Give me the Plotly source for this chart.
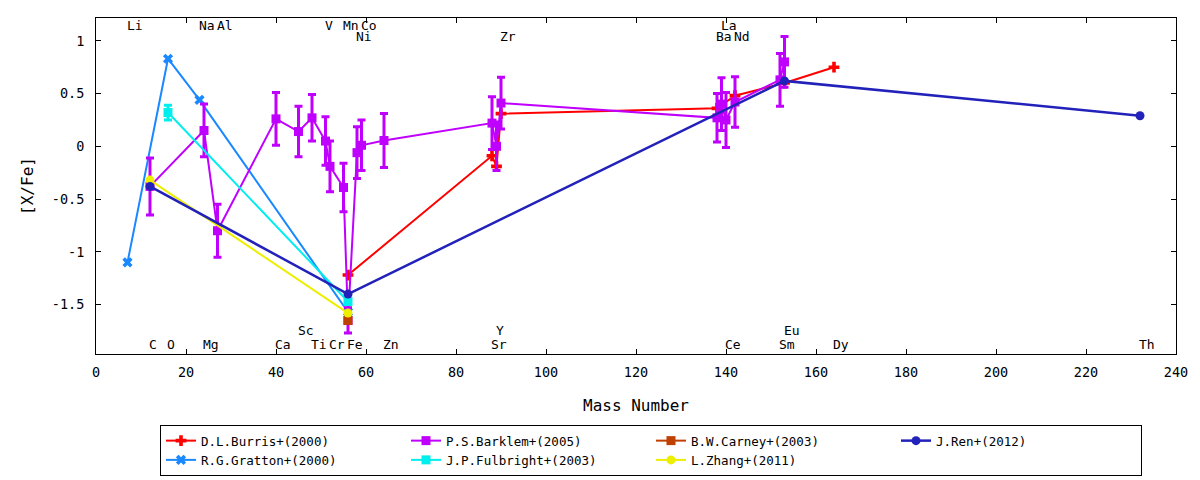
import plotly.graph_objects as go

# --- data ([X/Fe] vs mass number) ---
burris_mass = [56, 88, 89, 90, 138, 142, 153, 164]
burris_val = [-1.22, -0.09, -0.19, 0.31, 0.36, 0.48, 0.60, 0.75]

gratton_mass = [7, 16, 23, 56]
gratton_val = [-1.10, 0.83, 0.44, -1.57]

barklem_mass = [12, 24, 27, 40, 45, 48, 51, 52, 55, 56, 58, 59, 64,
                88, 89, 90, 138, 139, 140, 142, 152, 153]
barklem_val = [-0.38, 0.15, -0.80, 0.26, 0.14, 0.27, 0.05, -0.19, -0.39, -1.65, -0.06, 0.01, 0.055,
               0.22, 0.00, 0.41, 0.27, 0.40, 0.25, 0.42, 0.63, 0.80]
barklem_err = [0.27, 0.25, 0.25, 0.25, 0.24, 0.22, 0.23, 0.24, 0.23, 0.12, 0.245, 0.24, 0.255,
               0.25, 0.23, 0.245, 0.23, 0.25, 0.26, 0.24, 0.25, 0.24]

fulbright_mass = [16, 56]
fulbright_val = [0.32, -1.47]
fulbright_err = [0.07, 0.03]

carney_mass = [56]
carney_val = [-1.65]

zhang_mass = [12, 56]
zhang_val = [-0.32, -1.58]

ren_mass = [12, 56, 153, 232]
ren_val = [-0.38, -1.40, 0.62, 0.29]

# element labels along top and bottom of the frame
top1_names = ["Li", "Na", "Al", "V", "Mn", "Co", "La"]
top1_mass = [7, 23, 27, 51, 55, 59, 139]
top2_names = ["Ni", "Zr", "Ba", "Nd"]
top2_mass = [58, 90, 138, 142]
bot1_names = ["Sc", "Y", "Eu"]
bot1_mass = [45, 89, 153]
bot2_names = ["C", "O", "Mg", "Ca", "Ti", "Cr", "Fe", "Zn", "Sr", "Ce", "Sm", "Dy", "Th"]
bot2_mass = [12, 16, 24, 40, 48, 52, 56, 64, 88, 140, 152, 164, 232]

x_ticks = list(range(0, 241, 20))
y_ticks = [-1.5, -1, -0.5, 0, 0.5, 1]
y_ticktext = ["-1.5", "-1", "-0.5", "0", "0.5", "1"]

FONT = "DejaVu Sans Mono"

fig = go.Figure()


def add_series(name, xs, ys, color, symbol, rank, err=None, size=9, lw=2):
    fig.add_trace(go.Scatter(
        x=xs, y=ys, name=name,
        mode='lines+markers',
        line=dict(color=color, width=lw),
        marker=dict(color=color, symbol=symbol, size=size, line=dict(width=0)),
        error_y=dict(type='data', array=err, color=color, thickness=3, width=4,
                     visible=err is not None),
        legendrank=rank,
    ))


# plotting order as in the original (later ones on top)
add_series("D.L.Burris+(2000)", burris_mass, burris_val, "#ff0000", "cross", 1)
add_series("R.G.Gratton+(2000)", gratton_mass, gratton_val, "#1a88ff", "x", 5)
add_series("P.S.Barklem+(2005)", barklem_mass, barklem_val, "#c000ff", "square", 2, err=barklem_err)
add_series("J.P.Fulbright+(2003)", fulbright_mass, fulbright_val, "#00eeee", "square", 6, err=fulbright_err)
add_series("B.W.Carney+(2003)", carney_mass, carney_val, "#c04000", "square", 3)
add_series("L.Zhang+(2011)", zhang_mass, zhang_val, "#eeee00", "circle", 7)
add_series("J.Ren+(2012)", ren_mass, ren_val, "#2222bb", "circle", 4, lw=2.5)

annotations = []
for names, masses, yv in [(top1_names, top1_mass, 1.145), (top2_names, top2_mass, 1.036),
                          (bot1_names, bot1_mass, -1.745), (bot2_names, bot2_mass, -1.878)]:
    for nm, m in zip(names, masses):
        annotations.append(dict(
            x=m, y=yv, xref='x', yref='y', text=nm, showarrow=False,
            xanchor='left', yanchor='middle', xshift=-3,
            font=dict(family=FONT, size=13, color='black'),
        ))

fig.update_layout(
    width=1200, height=480,
    margin=dict(l=96, r=24, t=18, b=126, autoexpand=False),
    paper_bgcolor='white', plot_bgcolor='white',
    font=dict(family=FONT, size=13.5, color='black'),
    annotations=annotations,
    showlegend=True,
    legend=dict(
        orientation='h', x=160 / 1200, xref='container', xanchor='left',
        y=1 - 425 / 480, yref='container', yanchor='top',
        bordercolor='black', borderwidth=1, bgcolor='white',
        entrywidth=200, entrywidthmode='pixels',
        font=dict(family=FONT, size=12.5, color='black'),
        traceorder='normal', tracegroupgap=0,
    ),
)

fig.update_xaxes(
    range=[0, 240], tickvals=x_ticks, automargin=False,
    showline=True, linecolor='black', linewidth=1, mirror='ticks',
    ticks='inside', ticklen=5, tickcolor='black',
    showgrid=False, zeroline=False,
    title=dict(text="Mass Number", standoff=20),
    ticklabelstandoff=6,
)
fig.update_yaxes(
    range=[-1.968, 1.216], tickvals=y_ticks, ticktext=y_ticktext, automargin=False,
    showline=True, linecolor='black', linewidth=1, mirror='ticks',
    ticks='inside', ticklen=5, tickcolor='black',
    showgrid=False, zeroline=False,
    title=dict(text="[X/Fe]", standoff=14),
    ticklabelstandoff=8,
)

# the page body has a default 8px margin; drop it so the figure fills the window
fig.write_html("out.html", config={'displayModeBar': False},
               post_script="document.body.style.margin='0';")
